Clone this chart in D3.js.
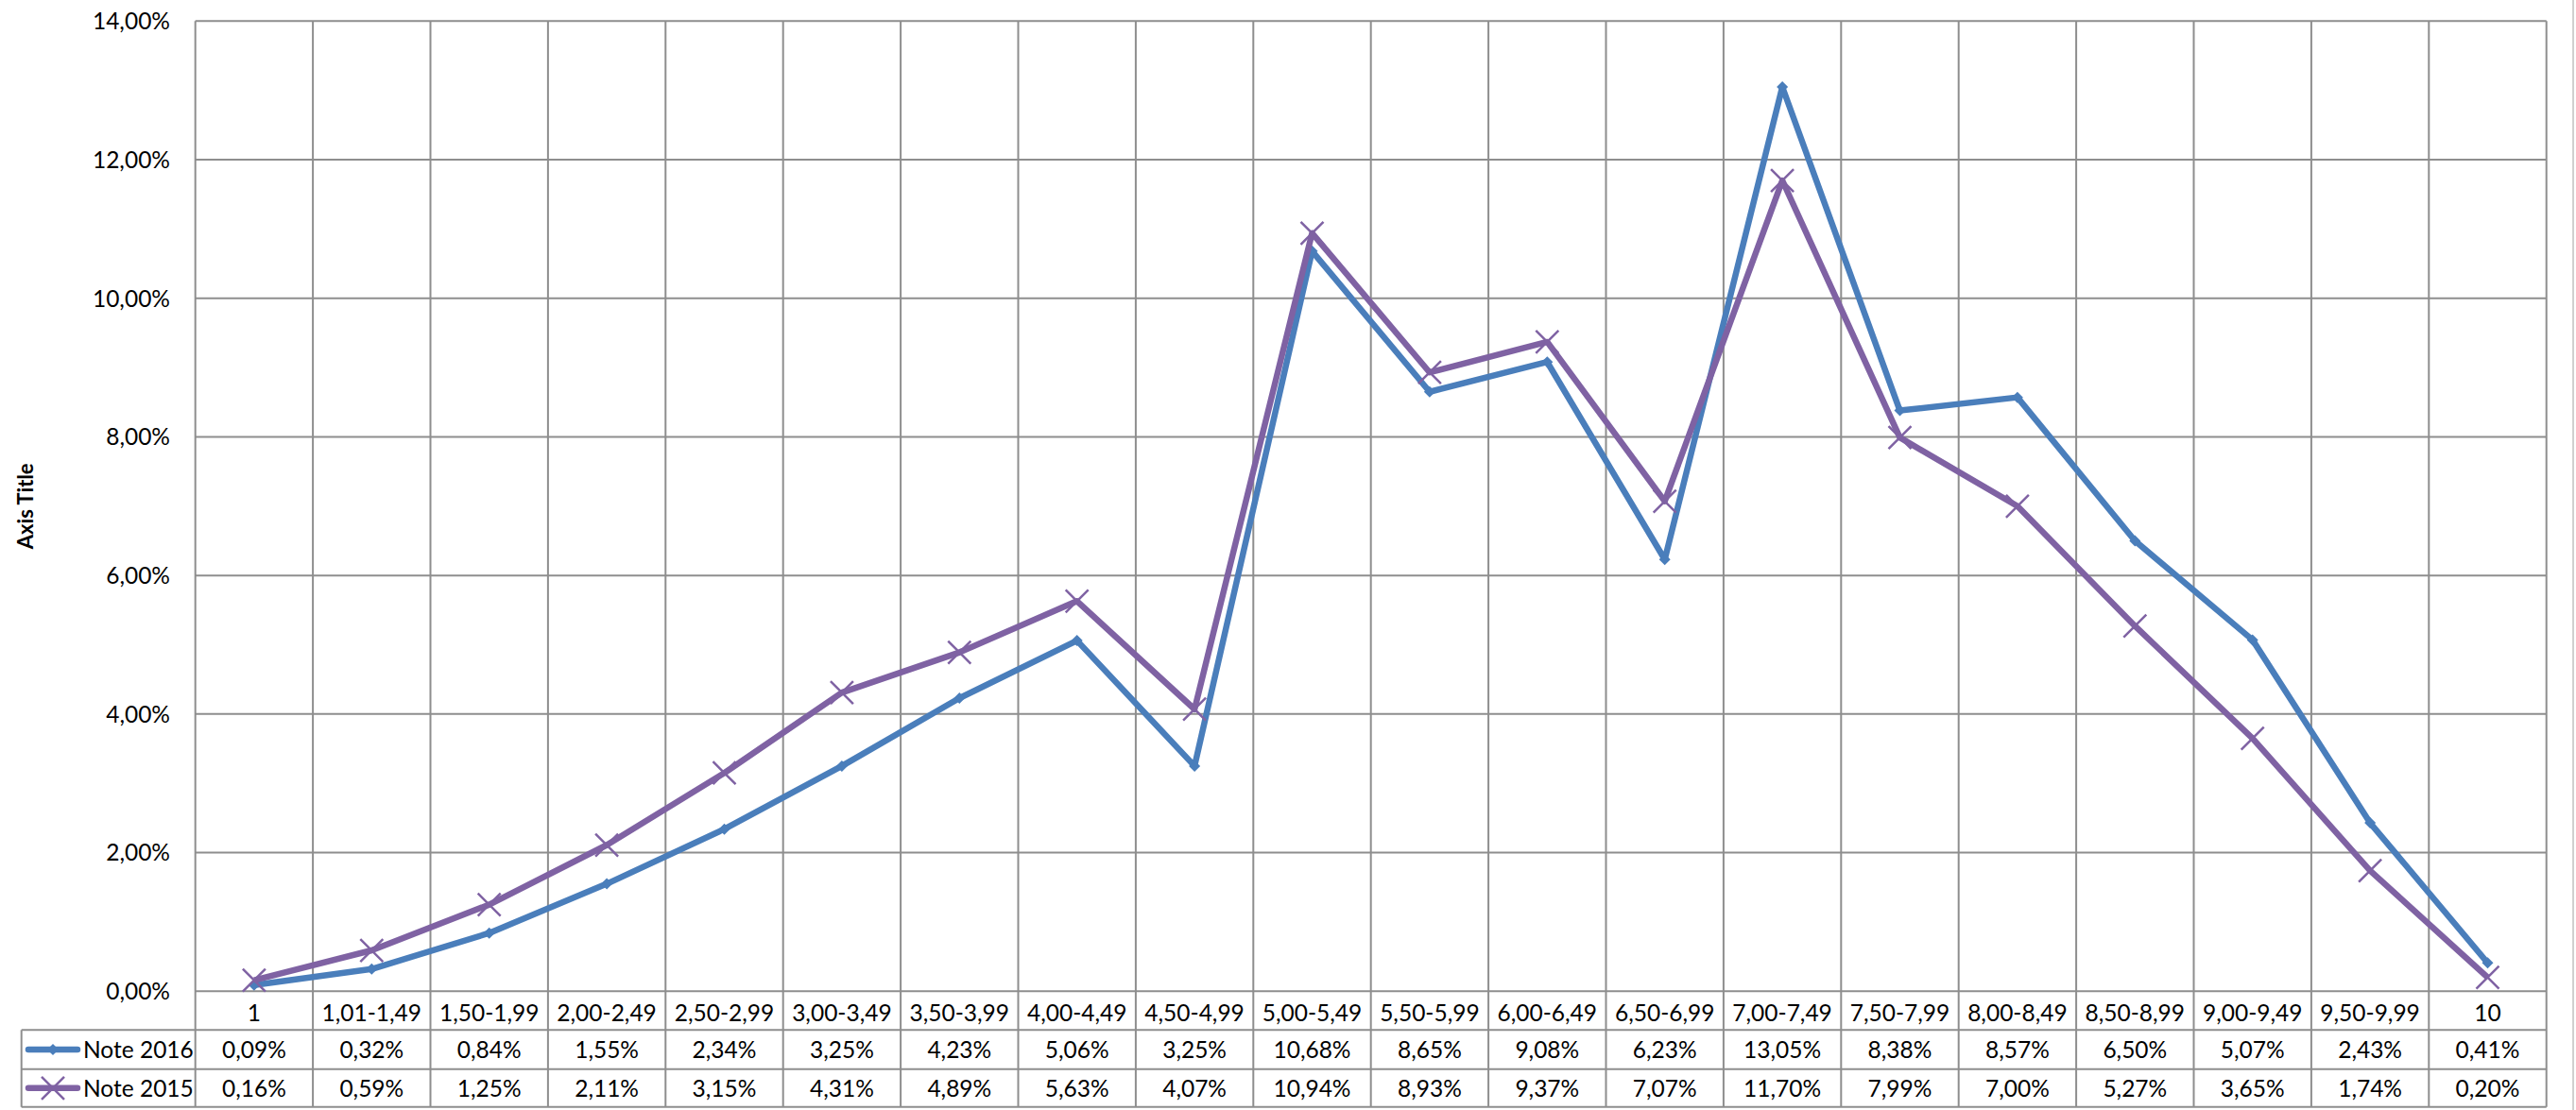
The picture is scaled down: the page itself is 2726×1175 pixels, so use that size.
<!DOCTYPE html>
<html>
<head>
<meta charset="utf-8">
<script src="https://cdn.jsdelivr.net/npm/d3@7"></script>
<style>
  body { margin: 0; background: #fff; }
  svg text { font-family: Lato, "Noto Sans", sans-serif; fill: #000; }
</style>
</head>
<body>
<svg id="chart" width="2726" height="1175"></svg>
<script>
// categories (grade ranges)
const categories = ['1','1,01-1,49','1,50-1,99','2,00-2,49','2,50-2,99','3,00-3,49','3,50-3,99','4,00-4,49','4,50-4,99','5,00-5,49','5,50-5,99','6,00-6,49','6,50-6,99','7,00-7,49','7,50-7,99','8,00-8,49','8,50-8,99','9,00-9,49','9,50-9,99','10'];
// series values in percent
const note2016 = [0.09,0.32,0.84,1.55,2.34,3.25,4.23,5.06,3.25,10.68,8.65,9.08,6.23,13.05,8.38,8.57,6.50,5.07,2.43,0.41];
const note2015 = [0.16,0.59,1.25,2.11,3.15,4.31,4.89,5.63,4.07,10.94,8.93,9.37,7.07,11.70,7.99,7.00,5.27,3.65,1.74,0.20];
const yTicks = [0,2,4,6,8,10,12,14];

const series = [
  {name: 'Note 2016', values: note2016, color: '#4a7ebb', marker: 'diamond'},
  {name: 'Note 2015', values: note2015, color: '#7f62a3', marker: 'x'}
];

const fmt = v => v.toFixed(2).replace('.', ',') + '%';

let plotL = 206.7, plotR = 2694.7, plotT = 22.3, plotB = 1049.3;
let rowH = [41, 41.5, 40];
let legendLeft = 22.7;
let gridColor = '#8e8e8e';
let fs = 24.5;

const svg = d3.select('#chart');

const x = d3.scaleBand().domain(categories).range([plotL, plotR]);
const y = d3.scaleLinear().domain([0, 14]).range([plotB, plotT]);

// right edge of chart area
svg.append('line')
  .attr('x1', 2723).attr('x2', 2723).attr('y1', 0).attr('y2', 1175)
  .attr('stroke', '#d0d0d0').attr('stroke-width', 2);

// horizontal gridlines
svg.append('g').selectAll('line').data(yTicks).enter().append('line')
  .attr('x1', plotL).attr('x2', plotR)
  .attr('y1', d => y(d)).attr('y2', d => y(d))
  .attr('stroke', gridColor).attr('stroke-width', 2);

// y labels
svg.append('g').selectAll('text').data(yTicks).enter().append('text')
  .attr('x', 180).attr('y', d => y(d))
  .attr('dy', '0.36em')
  .attr('text-anchor', 'end')
  .attr('font-size', fs)
  .text(d => fmt(d));

// axis title
svg.append('text')
  .attr('transform', `translate(35,${(plotT + plotB) / 2}) rotate(-90)`)
  .attr('text-anchor', 'middle')
  .attr('font-size', 22)
  .attr('font-weight', 'bold')
  .text('Axis Title');

// table rows y positions
let r0 = plotB, r1 = r0 + rowH[0], r2 = r1 + rowH[1], r3 = r2 + rowH[2];

// vertical gridlines (through plot and table)
const bounds = categories.map(c => x(c)).concat([plotR]);
svg.append('g').selectAll('line').data(bounds).enter().append('line')
  .attr('x1', d => d).attr('x2', d => d)
  .attr('y1', plotT).attr('y2', r3)
  .attr('stroke', gridColor).attr('stroke-width', 2);

// table horizontal lines
[r1, r2, r3].forEach(yy => {
  svg.append('line')
    .attr('x1', legendLeft).attr('x2', plotR)
    .attr('y1', yy).attr('y2', yy)
    .attr('stroke', gridColor).attr('stroke-width', 2);
});
svg.append('line')
  .attr('x1', legendLeft).attr('x2', legendLeft)
  .attr('y1', r1).attr('y2', r3)
  .attr('stroke', gridColor).attr('stroke-width', 2);

// category labels
svg.append('g').selectAll('text').data(categories).enter().append('text')
  .attr('x', d => x(d) + x.bandwidth() / 2)
  .attr('y', (r0 + r1) / 2 + 2)
  .attr('dy', '0.36em')
  .attr('text-anchor', 'middle')
  .attr('font-size', fs)
  .text(d => d);

// value rows
series.forEach((s, i) => {
  let rowMid = i == 0 ? (r1 + r2) / 2 : (r2 + r3) / 2;
  svg.append('g').selectAll('text').data(s.values).enter().append('text')
    .attr('x', (d, j) => x(categories[j]) + x.bandwidth() / 2)
    .attr('y', rowMid)
    .attr('dy', '0.36em')
    .attr('text-anchor', 'middle')
    .attr('font-size', fs)
    .text(d => fmt(d));
  s.rowMid = rowMid;
});

// marker drawing
function drawMarker(g, s, cx, cy) {
  if (s.marker == 'diamond') {
    g.append('path')
      .attr('d', `M${cx},${cy - 6}L${cx + 6},${cy}L${cx},${cy + 6}L${cx - 6},${cy}Z`)
      .attr('fill', s.color);
  } else {
    let h = 12;
    g.append('path')
      .attr('d', `M${cx - h},${cy - h}L${cx + h},${cy + h}M${cx - h},${cy + h}L${cx + h},${cy - h}`)
      .attr('stroke', s.color).attr('stroke-width', 2.5).attr('fill', 'none');
  }
}

// lines
const line = d3.line()
  .x((d, j) => x(categories[j]) + x.bandwidth() / 2)
  .y(d => y(d));

series.forEach(s => {
  const g = svg.append('g');
  g.append('path')
    .datum(s.values)
    .attr('d', line)
    .attr('fill', 'none')
    .attr('stroke', s.color)
    .attr('stroke-width', 6.5)
    .attr('stroke-linejoin', 'round');
  s.values.forEach((v, j) => drawMarker(g, s, x(categories[j]) + x.bandwidth() / 2, y(v)));

  // legend key in table
  const lg = svg.append('g');
  lg.append('line')
    .attr('x1', 30).attr('x2', 82)
    .attr('y1', s.rowMid).attr('y2', s.rowMid)
    .attr('stroke', s.color).attr('stroke-width', 6.5).attr('stroke-linecap', 'round');
  drawMarker(lg, s, 56, s.rowMid);
  lg.append('text')
    .attr('x', 88).attr('y', s.rowMid)
    .attr('dy', '0.36em')
    .attr('font-size', fs)
    .text(s.name);
});
</script>
</body>
</html>
